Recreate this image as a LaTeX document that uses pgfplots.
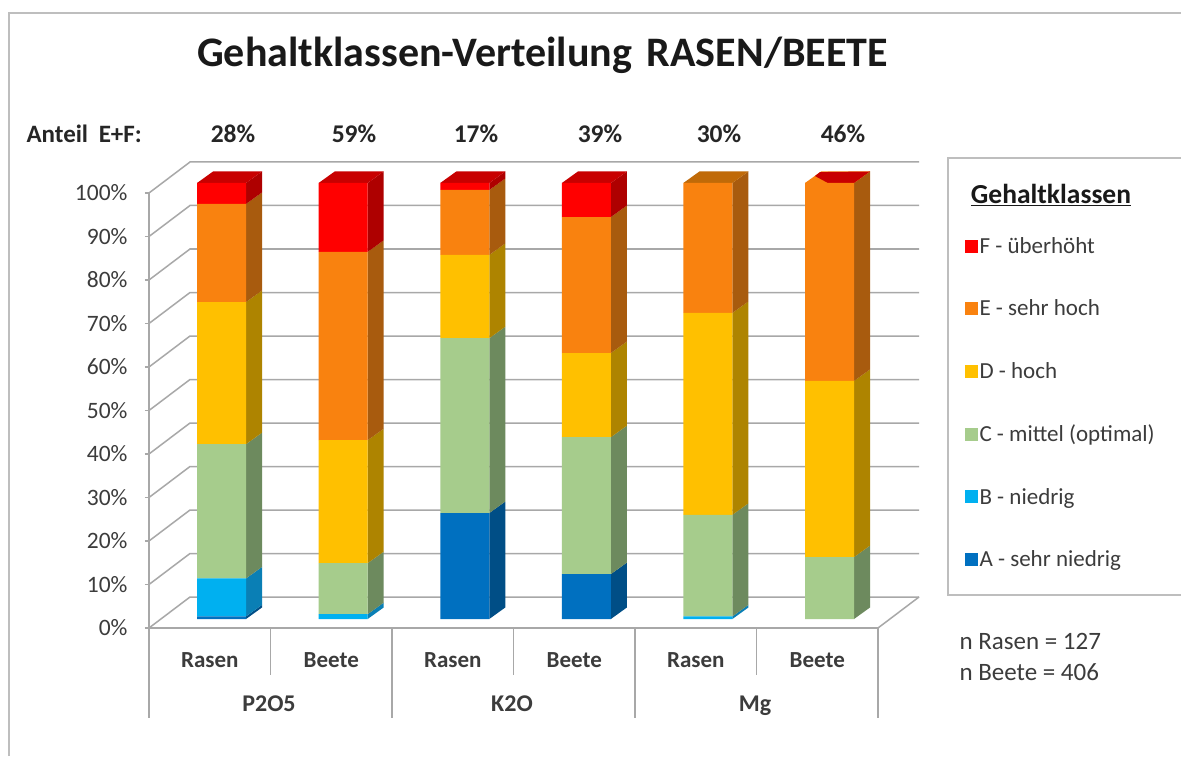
\documentclass[border=0pt]{standalone}
\usepackage{pgfplots}
\usepackage{pgfplotstable}
\usepackage{fontspec}
\setmainfont{Carlito}
\pgfplotsset{compat=1.18}
\definecolor{cF}{HTML}{FF0000}\definecolor{sF}{HTML}{AE0000}\definecolor{tF}{HTML}{C80000}
\definecolor{cE}{HTML}{F9820F}\definecolor{sE}{HTML}{A85B0E}\definecolor{tE}{HTML}{C06A08}
\definecolor{cD}{HTML}{FFC000}\definecolor{sD}{HTML}{AE8400}\definecolor{tD}{HTML}{C89600}
\definecolor{cC}{HTML}{A6CC8C}\definecolor{sC}{HTML}{6D8A5E}\definecolor{tC}{HTML}{80A06C}
\definecolor{cB}{HTML}{00B0F0}\definecolor{sB}{HTML}{0A7FB5}\definecolor{tB}{HTML}{0A8FC5}
\definecolor{cA}{HTML}{0070C0}\definecolor{sA}{HTML}{004E86}\definecolor{tA}{HTML}{005A9A}
\definecolor{gridc}{HTML}{A8A8A8}
\definecolor{framec}{HTML}{BEBEBE}
\definecolor{txt}{HTML}{3C3C3C}
\pgfplotstableread{
x     A    B    C    D    E    F
0.597 0.6  8.7  30.8 32.6 22.5 4.8
1.598 0.0  1.1  11.7 28.2 43.2 15.8
2.599 24.3 0.0  40.1 19.1 14.9 1.6
3.600 10.3 0.0  31.4 19.3 31.2 7.8
4.600 0.0  0.6  23.3 46.3 29.8 0.0
5.601 0.0  0.0  14.2 40.4 45.4 0.0
}\bars
\newcommand{\wall}[2]{\addplot[gridc,line width=1.5pt,forget plot] coordinates {(0,#1)(0.3374,#2)(6.3374,#2)};}
\newcommand{\seg}[4]{%
  \pgfmathsetmacro\xa{#1+0.2016}\pgfmathsetmacro\xb{#1+0.3333}%
  \pgfmathsetmacro\ya{#2+2.64}\pgfmathsetmacro\yb{#3+2.64}%
  \edef\temp{\noexpand\addplot[fill=#4,draw=none,forget plot] coordinates {(\xa,#2)(\xb,\ya)(\xb,\yb)(\xa,#3)} --cycle;}\temp}
\newcommand{\topf}[3]{%
  \pgfmathsetmacro\xa{#1-0.2016}\pgfmathsetmacro\xb{#1-0.0699}%
  \pgfmathsetmacro\xc{#1+0.3333}\pgfmathsetmacro\xd{#1+0.2016}\pgfmathsetmacro\yb{#2+2.64}%
  \edef\temp{\noexpand\addplot[fill=#3,draw=none,forget plot] coordinates {(\xa,#2)(\xb,\yb)(\xc,\yb)(\xd,#2)} --cycle;}\temp}
\pgfplotsset{common/.style={scale only axis,xmin=0,xmax=6,ymin=0,ymax=100,clip=false},
  bareaxis/.style={common,width=729pt,height=436pt,at={(149pt,137pt)},anchor=south west,axis lines=none}}
\begin{document}
\begin{tikzpicture}
\useasboundingbox (0,0) rectangle (1181pt,756pt);
\fill[white] (0,0) rectangle (1181pt,756pt);
\draw[framec,line width=1.5pt] (9pt,0pt) -- (9pt,743pt) -- (1190pt,743pt);
% frame axis
\begin{axis}[common,width=729pt,height=435pt,at={(149pt,128pt)},anchor=south west,
  axis x line*=bottom,axis y line*=left,axis line style={gridc,line width=1.5pt,-},
  ytick={0,10,...,100},
  yticklabels={0\%,10\%,20\%,30\%,40\%,50\%,60\%,70\%,80\%,90\%,100\%},
  ytick align=outside,major tick length=4pt,
  tick style={gridc,line width=1.2pt},
  yticklabel style={font=\fontsize{23.5}{26}\selectfont,text=txt,xshift=-14pt},
  xtick={0.5,1.5,2.5,3.5,4.5,5.5},
  xticklabels={Rasen,Beete,Rasen,Beete,Rasen,Beete},
  x tick style={draw=none},
  xticklabel style={font=\fontsize{23}{26}\selectfont\bfseries,text=txt,anchor=center,yshift=-32pt},
]
\wall{0}{7.126}\wall{10}{17.126}\wall{20}{27.126}\wall{30}{37.126}\wall{40}{47.126}\wall{50}{57.126}
\wall{60}{67.126}\wall{70}{77.126}\wall{80}{87.126}\wall{90}{97.126}\wall{100}{107.126}
\addplot[gridc,line width=1.5pt,forget plot] coordinates {(6,0)(6.3374,7.126)};
% category separators
\addplot[gridc,line width=1.2pt,forget plot] coordinates {(0,0)(0,-20.7)};
\addplot[gridc,line width=1.2pt,forget plot] coordinates {(1,0)(1,-10.8)};
\addplot[gridc,line width=1.2pt,forget plot] coordinates {(2,0)(2,-20.7)};
\addplot[gridc,line width=1.2pt,forget plot] coordinates {(3,0)(3,-10.8)};
\addplot[gridc,line width=1.2pt,forget plot] coordinates {(4,0)(4,-20.7)};
\addplot[gridc,line width=1.2pt,forget plot] coordinates {(5,0)(5,-10.8)};
\addplot[gridc,line width=1.2pt,forget plot] coordinates {(6,0)(6,-20.7)};
\end{axis}
% side and top faces
\begin{axis}[bareaxis]
\seg{0.597}{0}{0.6}{sA}\seg{0.597}{0.6}{9.3}{sB}\seg{0.597}{9.3}{40.1}{sC}\seg{0.597}{40.1}{72.7}{sD}\seg{0.597}{72.7}{95.2}{sE}\seg{0.597}{95.2}{100}{sF}\topf{0.597}{100}{tF}
\seg{1.598}{0}{1.1}{sB}\seg{1.598}{1.1}{12.8}{sC}\seg{1.598}{12.8}{41}{sD}\seg{1.598}{41}{84.2}{sE}\seg{1.598}{84.2}{100}{sF}\topf{1.598}{100}{tF}
\seg{2.599}{0}{24.3}{sA}\seg{2.599}{24.3}{64.4}{sC}\seg{2.599}{64.4}{83.5}{sD}\seg{2.599}{83.5}{98.4}{sE}\seg{2.599}{98.4}{100}{sF}\topf{2.599}{100}{tF}
\seg{3.6}{0}{10.3}{sA}\seg{3.6}{10.3}{41.7}{sC}\seg{3.6}{41.7}{61}{sD}\seg{3.6}{61}{92.2}{sE}\seg{3.6}{92.2}{100}{sF}\topf{3.6}{100}{tF}
\seg{4.6}{0}{0.6}{sB}\seg{4.6}{0.6}{23.9}{sC}\seg{4.6}{23.9}{70.2}{sD}\seg{4.6}{70.2}{100}{sE}\topf{4.6}{100}{tE}
\seg{5.601}{0}{14.2}{sC}\seg{5.601}{14.2}{54.6}{sD}\seg{5.601}{54.6}{100}{sE}\topf{5.601}{100}{cE}
\addplot[fill=tF,draw=none,forget plot] coordinates {(5.5226,102.5)(5.934,102.64)(5.802,100)(5.588,100)(5.481,101.6)} --cycle;
\end{axis}
% front faces
\begin{axis}[bareaxis,ybar stacked,bar width=49pt,
  legend style={at={(1.1184,0.88)},anchor=north west,draw=none,fill=none,
    font=\fontsize{23}{26}\selectfont,text=txt,
    /tikz/every even column/.append style={column sep=9pt},
    /tikz/row sep=41pt,
    /tikz/inner sep=0pt},
  legend cell align=left,
  reverse legend,
  legend image code/.code={\fill[#1,draw=none] (0pt,-6.5pt) rectangle (13pt,6.5pt);}
]
\addplot[fill=cA,draw=none] table[x=x,y=A] {\bars};
\addplot[fill=cB,draw=none] table[x=x,y=B] {\bars};
\addplot[fill=cC,draw=none] table[x=x,y=C] {\bars};
\addplot[fill=cD,draw=none] table[x=x,y=D] {\bars};
\addplot[fill=cE,draw=none] table[x=x,y=E] {\bars};
\addplot[fill=cF,draw=none] table[x=x,y=F] {\bars};
\legend{A - sehr niedrig,B - niedrig,C - mittel (optimal),D - hoch,E - sehr hoch,F - überhöht}
\end{axis}
% legend box
\draw[framec,line width=1.5pt] (1190pt,161pt) -- (948pt,161pt) -- (948pt,598pt) -- (1190pt,598pt);
% texts
\node[font=\fontsize{42}{48}\selectfont\bfseries,text=black!90] at (542.5pt,701pt) {Gehaltklassen-Verteilung\hspace{0.35em}RASEN/BEETE};
\node[font=\fontsize{25}{28}\selectfont\bfseries,text=black!85,anchor=west] at (23pt,622pt) {Anteil\hspace{0.2em} E+F:};
\foreach \x/\t in {233/28,354/59,476/17,600/39,719/30,843/46}
  \node[font=\fontsize{25.5}{28}\selectfont\bfseries,text=black!85] at (\x pt,622pt) {\t\%};
\node[font=\fontsize{27.5}{30}\selectfont\bfseries,text=black!90] at (1051pt,561pt) {\underline{Gehaltklassen}};
\foreach \x/\t in {269/P2O5,512/K2O,755/Mg}
  \node[font=\fontsize{24}{26}\selectfont\bfseries,text=txt,anchor=base] at (\x pt,45pt) {\t};
\node[font=\fontsize{25}{28}\selectfont,text=txt,anchor=west] at (956pt,115pt) {n Rasen = 127};
\node[font=\fontsize{25}{28}\selectfont,text=txt,anchor=west] at (956pt,84pt) {n Beete = 406};
\end{tikzpicture}
\end{document}
